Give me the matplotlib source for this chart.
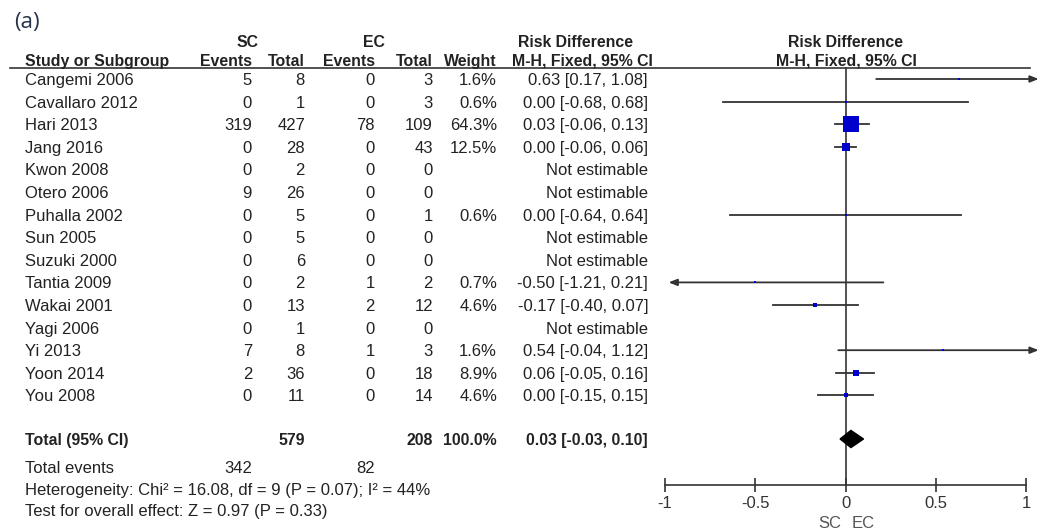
import numpy as np
import matplotlib
matplotlib.use('Agg')
from matplotlib import pyplot as plt
from matplotlib.transforms import blended_transform_factory
from matplotlib.patches import Polygon

plt.rcParams['font.family'] = ['Liberation Sans', 'DejaVu Sans']

studies = ['Cangemi 2006', 'Cavallaro 2012', 'Hari 2013', 'Jang 2016', 'Kwon 2008',
           'Otero 2006', 'Puhalla 2002', 'Sun 2005', 'Suzuki 2000', 'Tantia 2009',
           'Wakai 2001', 'Yagi 2006', 'Yi 2013', 'Yoon 2014', 'You 2008']
sc_events = [5, 0, 319, 0, 0, 9, 0, 0, 0, 0, 0, 0, 7, 2, 0]
sc_total = [8, 1, 427, 28, 2, 26, 5, 5, 6, 2, 13, 1, 8, 36, 11]
ec_events = [0, 0, 78, 0, 0, 0, 0, 0, 0, 1, 2, 0, 1, 0, 0]
ec_total = [3, 3, 109, 43, 0, 0, 1, 0, 0, 2, 12, 0, 3, 18, 14]
nan = np.nan
weight = [1.6, 0.6, 64.3, 12.5, nan, nan, 0.6, nan, nan, 0.7, 4.6, nan, 1.6, 8.9, 4.6]
rd = [0.63, 0.00, 0.03, 0.00, nan, nan, 0.00, nan, nan, -0.50, -0.17, nan, 0.54, 0.06, 0.00]
ci_lo = [0.17, -0.68, -0.06, -0.06, nan, nan, -0.64, nan, nan, -1.21, -0.40, nan, -0.04, -0.05, -0.15]
ci_hi = [1.08, 0.68, 0.13, 0.06, nan, nan, 0.64, nan, nan, 0.21, 0.07, nan, 1.12, 0.16, 0.15]

total_sc, total_ec = 579, 208
events_sc, events_ec = 342, 82
pooled, pooled_lo, pooled_hi = 0.03, -0.03, 0.10
xticks = [-1, -0.5, 0, 0.5, 1]
xticklabels = ['-1', '-0.5', '0', '0.5', '1']

W, H = 1041, 531
fig = plt.figure(figsize=(W / 100, H / 100), dpi=100)

# rows: y in row units, row 0 at 79 px from top, 22.6 px per row
row0, step = 79, 22.6
def rowy(px):
    return (px - row0) / step

top_px, bot_px = 68, 485
ax = fig.add_axes([665 / W, 1 - bot_px / H, (1026 - 665) / W, (bot_px - top_px) / H])
ax.set_xlim(-1, 1)
ax.set_ylim(rowy(bot_px), rowy(top_px))
for s in ['top', 'left', 'right']:
    ax.spines[s].set_visible(False)
ax.spines['bottom'].set_color('#333333')
ax.spines['bottom'].set_linewidth(1.2)
ax.set_yticks([])
ax.set_xticks(xticks)
ax.set_xticklabels(xticklabels, fontsize=12, color='#333333')
ax.tick_params(axis='x', direction='inout', length=10, width=1.2, color='#333333', pad=3)

tr = blended_transform_factory(fig.transFigure, ax.transData)
txt = '#222222'
fs = 12
fsb = 11.4

def put(xpx, y, s, ha='right', bold=False, **kw):
    ax.text(xpx / W, y, s, transform=tr, ha=ha, va='center_baseline',
            fontsize=kw.pop('size', fsb if bold else fs),
            fontweight='bold' if bold else 'normal', color=kw.pop('color', txt),
            clip_on=False, **kw)

# column positions (px)
c_name, c_sce, c_sct, c_ece, c_ect, c_w, c_rd = 25, 252, 305, 375, 433, 497, 648

# headers
put(14, rowy(20), '(a)', ha='left', size=16, color='#26334a', family=['Open Sans', 'DejaVu Sans'])
put(248, rowy(41), 'SC', ha='center', bold=True)
put(374, rowy(41), 'EC', ha='center', bold=True)
put(575, rowy(41), 'Risk Difference', ha='center', bold=True)
put(846, rowy(41), 'Risk Difference', ha='center', bold=True)
put(c_name, rowy(60), 'Study or Subgroup', ha='left', bold=True)
put(c_sce, rowy(60), 'Events', bold=True)
put(c_sct, rowy(60), 'Total', bold=True)
put(c_ece, rowy(60), 'Events', bold=True)
put(c_ect, rowy(60), 'Total', bold=True)
put(c_w, rowy(60), 'Weight', bold=True)
put(582, rowy(60), 'M-H, Fixed, 95% CI', ha='center', bold=True)
put(846, rowy(60), 'M-H, Fixed, 95% CI', ha='center', bold=True)
ax.plot([10 / W, 1030 / W], [rowy(top_px)] * 2, transform=tr, color='#333333', lw=1.2, clip_on=False)

# zero line
ax.plot([0, 0], [rowy(top_px), rowy(bot_px)], color='#333333', lw=1.2, clip_on=False)

arrow = dict(arrowstyle='-|>,head_length=0.5,head_width=0.2', color='#333333', lw=1.3,
             shrinkA=0, shrinkB=0)

# study rows
for i, name in enumerate(studies):
    put(c_name, i, name, ha='left')
    put(c_sce, i, str(sc_events[i]))
    put(c_sct, i, str(sc_total[i]))
    put(c_ece, i, str(ec_events[i]))
    put(c_ect, i, str(ec_total[i]))
    if np.isnan(rd[i]):
        put(c_rd, i, 'Not estimable')
        continue
    put(c_w, i, '%.1f%%' % weight[i])
    put(c_rd, i, '%.2f [%.2f, %.2f]' % (rd[i], ci_lo[i], ci_hi[i]))
    lo, hi = ci_lo[i], ci_hi[i]
    if hi > 1:
        ax.annotate('', xy=(1.07, i), xytext=(lo, i), arrowprops=arrow, annotation_clip=False)
    elif lo < -1:
        ax.annotate('', xy=(-0.98, i), xytext=(hi, i), arrowprops=arrow, annotation_clip=False)
    else:
        ax.plot([lo, hi], [i, i], color='#333333', lw=1.3, clip_on=False)
    msize = max(12.2 * np.sqrt(weight[i] / 64.3), 2.0)
    ax.plot(rd[i], i, marker='s', ms=msize, color='#0000cc', mec='#0000cc', mew=0, clip_on=False, zorder=3)

# totals
yt = rowy(439)
put(c_name, yt, 'Total (95% CI)', ha='left', bold=True)
put(c_sct, yt, str(total_sc), bold=True)
put(c_ect, yt, str(total_ec), bold=True)
put(c_w, yt, '100.0%', bold=True)
put(c_rd, yt, '%.2f [%.2f, %.2f]' % (pooled, pooled_lo, pooled_hi), bold=True)
dh = 0.38
ax.add_patch(Polygon([[pooled_lo, yt], [pooled, yt - dh], [pooled_hi, yt], [pooled, yt + dh]],
                     closed=True, color='black', clip_on=False, zorder=3))

ye = rowy(467)
put(c_name, ye, 'Total events', ha='left')
put(c_sce, ye, str(events_sc))
put(c_ece, ye, str(events_ec))
put(c_name, rowy(489), 'Heterogeneity: Chi² = 16.08, df = 9 (P = 0.07); I² = 44%', ha='left')
put(c_name, rowy(510), 'Test for overall effect: Z = 0.97 (P = 0.33)', ha='left')

# favours labels
put(841, rowy(522), 'SC', ha='right', color='#555555')
put(852, rowy(522), 'EC', ha='left', color='#555555')

fig.savefig('out.png', dpi=100)
